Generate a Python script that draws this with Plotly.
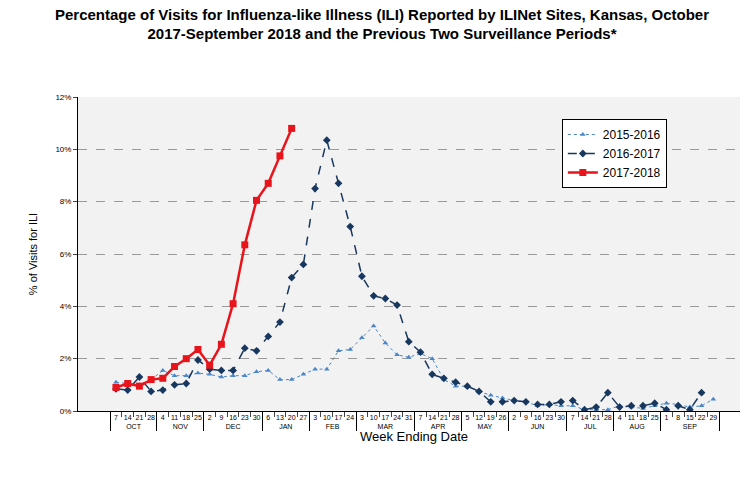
import plotly.graph_objects as go

months = ["OCT"]*4 + ["NOV"]*4 + ["DEC"]*5 + ["JAN"]*4 + ["FEB"]*4 + ["MAR"]*5 + ["APR"]*4 + ["MAY"]*4 + ["JUN"]*5 + ["JUL"]*4 + ["AUG"]*4 + ["SEP"]*5
days = ["7","14","21","28", "4","11","18","25", "2","9","16","23","30", "6","13","20","27", "3","10","17","24",
        "3","10","17","24","31", "7","14","21","28", "5","12","19","26", "2","9","16","23","30",
        "7","14","21","28", "4","11","18","25", "1","8","15","22","29"]

s1516 = [1.1,1.05,1.0,1.2, 1.55,1.35,1.35,1.45, 1.4,1.3,1.35,1.35,1.5, 1.55,1.2,1.2,1.4, 1.6,1.6,2.3,2.35,
         2.8,3.25,2.6,2.15,2.05, 2.2,2.0,1.2,0.95, 0.95,0.75,0.6,0.5, 0.4,0.35,0.2,0.25,0.2,
         0.2,0.05,0.05,0.05, 0.2,0.15,0.1,0.2, 0.3,0.25,0.15,0.2,0.45]
s1617 = [0.85,0.8,1.3,0.75, 0.8,1.0,1.05,1.95, 1.6,1.55,1.55,2.4,2.3, 2.85,3.4,5.1,5.6, 8.5,10.35,8.7,7.05,
         5.15,4.4,4.3,4.05,2.65, 2.25,1.4,1.25,1.1, 0.95,0.75,0.35,0.35, 0.4,0.35,0.25,0.25,0.35,
         0.4,0.05,0.15,0.7, 0.15,0.2,0.2,0.3, 0.05,0.2,0.05,0.7]
s1718 = [0.9,1.05,0.95,1.2, 1.25,1.7,2.0,2.35, 1.75,2.55,4.1,6.35,8.05, 8.7,9.75,10.8]

def xs(n):
    return [months[:n], days[:n]]

fig = go.Figure()
fig.add_trace(go.Scatter(x=xs(len(s1516)), y=s1516, name="2015-2016", mode="lines+markers",
    line=dict(color="#4a86c8", width=1, dash="dot"), marker=dict(symbol="triangle-up", size=5, color="#4a86c8")))
fig.add_trace(go.Scatter(x=xs(len(s1617)), y=s1617, name="2016-2017", mode="lines+markers",
    line=dict(color="#17375e", width=1.5, dash="dash"), marker=dict(symbol="diamond", size=6, color="#17375e")))
fig.add_trace(go.Scatter(x=xs(len(s1718)), y=s1718, name="2017-2018", mode="lines+markers",
    line=dict(color="#e8141b", width=2.5), marker=dict(symbol="square", size=7, color="#e8141b")))

fig.update_layout(
    width=748, height=477, margin=dict(l=70, r=6, t=89, b=74),
    paper_bgcolor="white", plot_bgcolor="#f2f2f2",
    font=dict(family="Arial, Liberation Sans", color="black"),
    title=dict(text="<b>Percentage of Visits for Influenza-like Illness (ILI) Reported by ILINet Sites, Kansas, October<br>2017-September 2018 and the Previous Two Surveillance Periods*</b>",
               x=0.5, xanchor="center", y=0.975, yanchor="top", font=dict(size=15)),
    legend=dict(x=0.72, y=0.93, xanchor="left", yanchor="top", bgcolor="white", bordercolor="black",
                borderwidth=1, font=dict(size=12), tracegroupgap=2),
    showlegend=True,
)
fig.update_yaxes(range=[0, 12], dtick=2, ticksuffix="%", tickfont=dict(size=8),
                 showgrid=True, gridcolor="#999999", griddash="dash", zeroline=False,
                 showline=True, linecolor="black", ticks="outside", ticklen=4,
                 title=dict(text="% of Visits for ILI", font=dict(size=11)))
fig.update_xaxes(type="multicategory", tickfont=dict(size=7), tickangle=0, showdividers=True, dividercolor="black",
                 showline=True, linecolor="black", showgrid=False, ticks="outside",
                 title=dict(text="Week Ending Date", font=dict(size=13), standoff=2))
fig.write_html("out.html")
